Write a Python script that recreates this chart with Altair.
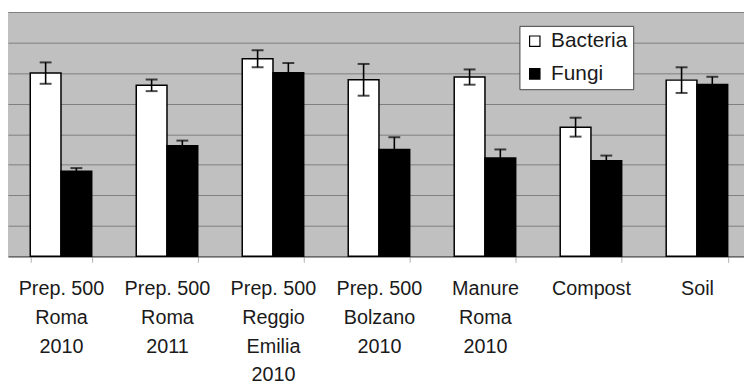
import altair as alt
import pandas as pd

categories = [
    "Prep. 500\nRoma\n2010",
    "Prep. 500\nRoma\n2011",
    "Prep. 500\nReggio\nEmilia\n2010",
    "Prep. 500\nBolzano\n2010",
    "Manure\nRoma\n2010",
    "Compost",
    "Soil",
]
series = ["Bacteria", "Fungi"]
bacteria = [6.0, 5.6, 6.47, 5.78, 5.87, 4.23, 5.77]
bacteria_err = [0.35, 0.19, 0.28, 0.52, 0.25, 0.31, 0.42]
fungi = [2.79, 3.62, 6.01, 3.5, 3.22, 3.13, 5.63]
fungi_err = [0.1, 0.17, 0.32, 0.4, 0.28, 0.17, 0.25]
y_grid = [0, 1, 2, 3, 4, 5, 6, 7, 8]

rows = []
for i, c in enumerate(categories):
    rows.append({"cat": c, "series": "Bacteria", "v": bacteria[i],
                 "lo": bacteria[i] - bacteria_err[i], "hi": bacteria[i] + bacteria_err[i]})
    rows.append({"cat": c, "series": "Fungi", "v": fungi[i],
                 "lo": fungi[i] - fungi_err[i], "hi": fungi[i] + fungi_err[i]})
df = pd.DataFrame(rows)

FONT = "Liberation Sans"

x_axis = alt.Axis(
    title=None,
    labelAngle=0,
    labelExpr="split(datum.label, '\\n')",
    labelFont=FONT,
    labelFontSize=20,
    labelLineHeight=29,
    labelColor="#1a1a1a",
    labelPadding=17,
    tickBand="extent",
    tickSize=6,
    tickColor="#b0b0b0",
    domainColor="#6a6a6a",
    domainWidth=1.5,
    grid=False,
    labelBound=False,
    labelOverlap=False,
)
x_scale = alt.Scale(paddingInner=0.42, paddingOuter=0.21, range=[0, 750])
y_axis = alt.Axis(
    title=None,
    labels=False,
    ticks=False,
    domain=False,
    grid=True,
    values=y_grid,
    gridColor="#7e7e7e",
    gridWidth=1,
    gridOpacity=1,
)
y_scale = alt.Scale(domain=[0, 8], nice=False)


def X():
    return alt.X("cat:N", sort=categories, scale=x_scale, axis=x_axis)


def XO():
    return alt.XOffset("series:N", sort=series, scale=alt.Scale(paddingInner=0, paddingOuter=0))


def Y(field):
    return alt.Y(field, scale=y_scale, axis=y_axis)


bars = alt.Chart(df).mark_bar(stroke="black", strokeWidth=1.5).encode(
    x=X(),
    xOffset=XO(),
    y=Y("v:Q"),
    fill=alt.Fill(
        "series:N",
        sort=series,
        scale=alt.Scale(domain=series, range=["white", "black"]),
        legend=alt.Legend(
            title=None,
            orient="none",
            legendX=517,
            legendY=14,
            fillColor="white",
            strokeColor="#444",
            padding=5,
            rowPadding=11,
            symbolType="square",
            symbolSize=110,
            symbolStrokeColor="black",
            symbolStrokeWidth=1.2,
            labelFont=FONT,
            labelFontSize=21,
            labelColor="#1a1a1a",
            labelOffset=6,
        ),
    ),
)

rules = alt.Chart(df).mark_rule(color="black", strokeWidth=1.6).encode(
    x=X(),
    xOffset=XO(),
    y=Y("lo:Q"),
    y2="hi:Q",
)
caps_hi = alt.Chart(df).mark_tick(color="black", size=12, thickness=2).encode(
    x=X(),
    xOffset=XO(),
    y=Y("hi:Q"),
)
caps_lo = alt.Chart(df).mark_tick(color="black", size=12, thickness=2).encode(
    x=X(),
    xOffset=XO(),
    y=Y("lo:Q"),
)

chart = (
    alt.layer(bars, rules, caps_hi, caps_lo)
    .properties(
        width=744,
        height=247,
        autosize=alt.AutoSizeParams(type="none"),
        padding={"left": 0, "top": 2, "right": 0, "bottom": 130},
        background="white",
    )
    .configure_view(fill="#c0c0c0", stroke=None)
)

chart.save("out.html", embed_options={"renderer": "svg", "actions": False})
